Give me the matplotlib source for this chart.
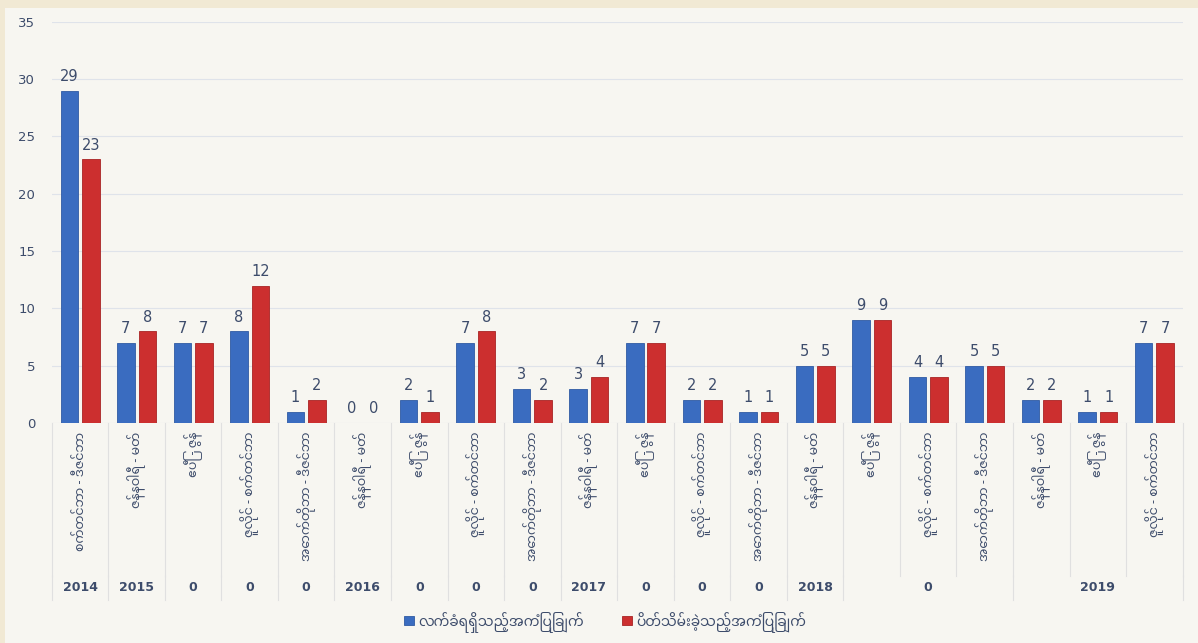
import matplotlib
matplotlib.use("Agg")
import matplotlib.pyplot as plt
from matplotlib.patches import Rectangle
import numpy as np

plt.rcParams['font.family'] = ['Noto Sans Myanmar', 'DejaVu Sans']

# data
quarters = ["စက်တင်ဘာ - ဒီဇင်ဘာ",
            "ဇန်နဝါရီ - မတ်", "ဧပြီ - ဇွန်", "ဇူလိုင် - စက်တင်ဘာ", "အောက်တိုဘာ - ဒီဇင်ဘာ",
            "ဇန်နဝါရီ - မတ်", "ဧပြီ - ဇွန်", "ဇူလိုင် - စက်တင်ဘာ", "အောက်တိုဘာ - ဒီဇင်ဘာ",
            "ဇန်နဝါရီ - မတ်", "ဧပြီ - ဇွန်", "ဇူလိုင် - စက်တင်ဘာ", "အောက်တိုဘာ - ဒီဇင်ဘာ",
            "ဇန်နဝါရီ - မတ်", "ဧပြီ - ဇွန်", "ဇူလိုင် - စက်တင်ဘာ", "အောက်တိုဘာ - ဒီဇင်ဘာ",
            "ဇန်နဝါရီ - မတ်", "ဧပြီ - ဇွန်", "ဇူလိုင် - စက်တင်ဘာ"]
received = [29, 7, 7, 8, 1, 0, 2, 7, 3, 3, 7, 2, 1, 5, 9, 4, 5, 2, 1, 7]
closed = [23, 8, 7, 12, 2, 0, 1, 8, 2, 4, 7, 2, 1, 5, 9, 4, 5, 2, 1, 7]
# group row: label and how many categories it spans
group_labels = ["2014", "2015", "0", "0", "0", "2016", "0", "0", "0", "2017",
                "0", "0", "0", "2018", "0", "2019"]
group_spans = [1, 1, 1, 1, 1, 1, 1, 1, 1, 1, 1, 1, 1, 1, 3, 3]
series_names = ["လက်ခံရရှိသည့်အကြံပြုချက်", "ပိတ်သိမ်းခဲ့သည့်အကြံပြုချက်"]

blue = '#3a6cc0'
red = '#cc2f2f'
txt = '#3d4c6b'

fig = plt.figure(figsize=(11.98, 6.43), dpi=100, facecolor='#f7f6f1')
# tan border on the top and left
fig.patches.append(Rectangle((0, 1 - 8 / 643), 1, 8 / 643, transform=fig.transFigure,
                             facecolor='#f1e9d4', edgecolor='none', zorder=-10))
fig.patches.append(Rectangle((0, 0), 5 / 1198, 1, transform=fig.transFigure,
                             facecolor='#f1e9d4', edgecolor='none', zorder=-10))

ax = fig.add_axes([0.0432, 0.342, 0.944, 0.624])
ax.set_facecolor('none')

x = np.arange(len(quarters))
w = 0.31
ax.bar(x - 0.19, received, w, color=blue, edgecolor='#2f5aa3', linewidth=0.6, label=series_names[0], zorder=3)
ax.bar(x + 0.19, closed, w, color=red, edgecolor='#a82424', linewidth=0.6, label=series_names[1], zorder=3)

for i in range(len(x)):
    ax.text(x[i] - 0.19, received[i] + 0.6, str(received[i]), ha='center', va='bottom',
            fontsize=10.5, color=txt, family='DejaVu Sans')
    ax.text(x[i] + 0.19, closed[i] + 0.6, str(closed[i]), ha='center', va='bottom',
            fontsize=10.5, color=txt, family='DejaVu Sans')

ax.set_xlim(-0.5, len(x) - 0.5)
ax.set_ylim(0, 35)
ax.set_yticks(range(0, 36, 5))
ax.tick_params(axis='y', length=0, labelsize=9.5, labelcolor=txt, pad=12)
for lab in ax.get_yticklabels():
    lab.set_family('DejaVu Sans')
ax.grid(axis='y', color='#dfe3ea', linewidth=0.8, zorder=0)
for s in ax.spines.values():
    s.set_visible(False)
ax.set_xticks([])

# category labels, rotated
trans = ax.get_xaxis_transform()
for i, q in enumerate(quarters):
    ax.text(x[i], -0.022, q, rotation=90, ha='center', va='top', fontsize=9,
            color=txt, transform=trans)

# separators between categories
sep_color = '#e0e0e0'
for b in np.arange(-0.5, len(x), 1.0):
    ax.plot([b, b], [0, -0.38], color=sep_color, lw=0.8, transform=trans, clip_on=False)

# group row
pos = -0.5
for lab, span in zip(group_labels, group_spans):
    ax.text(pos + span / 2, -0.41, lab, ha='center', va='center', fontsize=9,
            fontweight='bold', color=txt, family='DejaVu Sans', transform=trans)
    ax.plot([pos, pos], [-0.38, -0.44], color=sep_color, lw=0.8, transform=trans, clip_on=False)
    pos += span
ax.plot([pos, pos], [-0.38, -0.44], color=sep_color, lw=0.8, transform=trans, clip_on=False)

leg = fig.legend(loc='center', bbox_to_anchor=(0.505, 0.033), ncol=2, frameon=False,
                 fontsize=10, handlelength=0.7, handleheight=0.7, handletextpad=0.3,
                 columnspacing=2.8)
for t in leg.get_texts():
    t.set_color(txt)

fig.savefig("out.png", dpi=100, facecolor=fig.get_facecolor())
